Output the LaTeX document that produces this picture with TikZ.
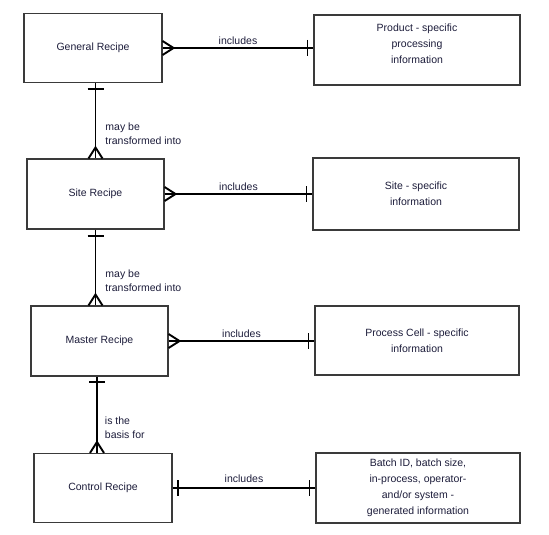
\documentclass[tikz,border=0pt]{standalone}
\usepackage{fontspec}
\setmainfont{Liberation Sans}
\usetikzlibrary{calc,positioning}
\definecolor{ink}{HTML}{1C1C3A}
\definecolor{frame}{HTML}{3A3A3A}

\begin{document}
\begin{tikzpicture}[
    x=1pt,y=-1pt,
    font=\fontsize{10.5}{16}\selectfont,
    entity/.style={rectangle,draw=frame,line width=1.1pt,text=ink,align=center,inner sep=0pt},
    conn/.style={line width=1.9pt},
    rel/.style={font=\fontsize{10.5}{14}\selectfont,text=ink,inner sep=2pt},
    vrel/.style={font=\fontsize{10.5}{14}\selectfont,text=ink,align=left,inner sep=0pt}
]
\useasboundingbox (0,0) rectangle (549,535);

% Recipe entities
\node[entity,minimum width=138,minimum height=69] (gen) at (93,48) {General Recipe};
\node[entity,minimum width=137,minimum height=70] (site) at (95.5,194) {Site Recipe};
\node[entity,minimum width=137,minimum height=70] (master) at (99.5,341) {Master Recipe};
\node[entity,minimum width=138,minimum height=69] (control) at (103,488) {Control Recipe};

% Information entities
\node[entity,minimum width=206,minimum height=70] (prodinfo) at (417,50) {Product - specific\\processing\\information\\[-4pt]};
\node[entity,minimum width=206,minimum height=72] (siteinfo) at (416,194) {Site - specific\\information};
\node[entity,minimum width=204,minimum height=69] (cellinfo) at (417,340.5) {Process Cell - specific\\information};
\node[entity,minimum width=204,minimum height=70] (batchinfo) at (418,488) {Batch ID, batch size,\\in-process, operator-\\and/or system -\\generated information};

% includes relations
\foreach \a/\b in {gen/prodinfo, site/siteinfo, master/cellinfo} {
    \draw[conn] (\a.east) -- (\a.east -| \b.west) node[midway,above,rel]{includes};
    \draw[conn] ($(\a.east)+(0,-7)$) -- ++(11,7) -- ++(-11,7);
    \draw[conn] ($(\a.east -| \b.west)+(-6,-8)$) -- ++(0,16);
}
\draw[conn] (control.east) -- (control.east -| batchinfo.west) node[midway,above=2pt,rel]{includes};
\draw[conn] ($(control.east)+(5,-8)$) -- ++(0,16);
\draw[conn] ($(control.east -| batchinfo.west)+(-6,-8)$) -- ++(0,16);

% recipe hierarchy
\draw[conn] (site.north |- gen.south) -- (site.north)
    node[pos=0.67,right=9pt,vrel]{may be\\transformed into};
\draw[conn] (site.south) -- (site.south |- master.north)
    node[pos=0.67,right=9pt,vrel]{may be\\transformed into};
\draw[conn] ([xshift=-2.5pt]master.south) -- ([xshift=-2.5pt]master.south |- control.north)
    node[pos=0.67,right=7pt,vrel]{is the\\basis for};

% one ends
\draw[conn] ($(site.north |- gen.south)+(-8,6)$) -- ++(16,0);
\draw[conn] ($(site.south)+(-8,6)$) -- ++(16,0);
\draw[conn] ($(master.south)+(-10.5,5)$) -- ++(16,0);

% many ends
\draw[conn] ($(site.north)+(-7,0)$) -- ++(7,-11) -- ++(7,11);
\draw[conn] ($(site.south |- master.north)+(-7,0)$) -- ++(7,-11) -- ++(7,11);
\draw[conn] ($([xshift=-2.5pt]master.south |- control.north)+(-7,0)$) -- ++(7,-11) -- ++(7,11);
\end{tikzpicture}
\end{document}
